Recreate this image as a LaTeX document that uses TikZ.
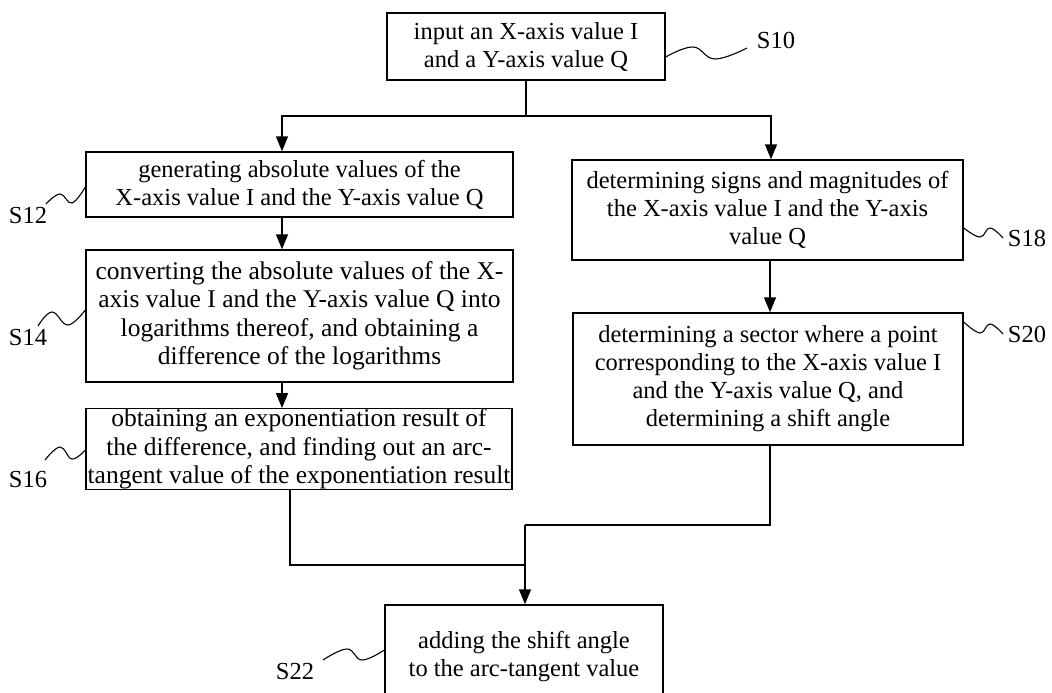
\documentclass[tikz,border=0pt]{standalone}
\usepackage{fontspec}
\setmainfont{Liberation Serif}
\usetikzlibrary{arrows.meta,calc}
\begin{document}
\begin{tikzpicture}[x=1pt,y=-1pt,
  box/.style={draw, line width=1.4pt, rectangle, inner sep=0pt, align=center,
    font=\fontsize{24.5}{28}\selectfont},
  bigbox/.style={box, font=\fontsize{25.5}{28.5}\selectfont},
  lbl/.style={font=\fontsize{24.5}{28}\selectfont, inner sep=0pt},
  conn/.style={line width=1.4pt},
  arr/.style={conn, -{Triangle[length=15pt,width=12pt]}},
  sq/.style={line width=1.1pt}]
\useasboundingbox (0,0) rectangle (1052,693);

% boxes
\node[box, minimum width=278pt, minimum height=67pt] (s10) at (526,46.5)
  {input an X-axis value I\\and a Y-axis value Q};
\node[box, minimum width=427pt, minimum height=65pt] (s12) at (299.5,184.5)
  {generating absolute values of the\\X-axis value I and the Y-axis value Q};
\node[bigbox, minimum width=427pt, minimum height=132pt] (s14) at (299.5,316)
  {converting the absolute values of the X-\\axis value I and the Y-axis value Q into\\logarithms thereof, and obtaining a\\difference of the logarithms};
\node[bigbox, minimum width=426pt, minimum height=72pt] (s16) at (299,449)
  {obtaining an exponentiation result of\\the difference, and finding out an arc-\\tangent value of the exponentiation result};
\node[box, minimum width=391pt, minimum height=100pt] (s18) at (767.5,210)
  {determining signs and magnitudes of\\the X-axis value I and the Y-axis\\value Q};
\node[box, minimum width=390pt, minimum height=132pt] (s20) at (768,379)
  {determining a sector where a point\\corresponding to the X-axis value I\\and the Y-axis value Q, and\\determining a shift angle};
\node[box, minimum width=278pt, minimum height=104pt] (s22) at (524,657)
  {adding the shift angle\\to the arc-tangent value};

% labels
\node[lbl] (l10) at (776,40) {S10};
\node[lbl] (l12) at (28,216) {S12};
\node[lbl] (l14) at (28,338) {S14};
\node[lbl] (l16) at (28,480) {S16};
\node[lbl] (l18) at (1027,238) {S18};
\node[lbl] (l20) at (1027,334) {S20};
\node[lbl] (l22) at (295,672) {S22};

% squiggles
\draw[sq] plot[smooth, tension=0.7] coordinates {($(s10.east)+(0,10.5)$) (693,47) (715,59) (747,48)};
\draw[sq] plot[smooth, tension=0.7] coordinates {($(s12.west)+(0,2.5)$) (72,203) (60,194) (46,204)};
\draw[sq] plot[smooth, tension=0.7] coordinates {($(s14.west)+(0,-6)$) (68,325) (52,312) (38,326)};
\draw[sq] plot[smooth, tension=0.7] coordinates {($(s16.west)+(0,1)$) (72,459) (60,447) (45,460)};
\draw[sq] plot[smooth, tension=0.7] coordinates {($(s18.east)+(0,18)$) (980,237) (990,228) (1003,238)};
\draw[sq] plot[smooth, tension=0.7] coordinates {($(s20.east)+(0,-57)$) (980,333) (990,324) (1003,334)};
\draw[sq] plot[smooth, tension=0.7] coordinates {($(s22.west)+(0,-7)$) (362,660) (347,649) (323,660)};

% connectors
\coordinate (j0) at (526,116);
\coordinate (jl) at (282,116);
\coordinate (jr) at (771,116);
\coordinate (bl) at (290,565);
\coordinate (br) at (770,525);
\coordinate (jb) at (525,525);

\draw[conn] (s10.south) -- (j0);
\draw[arr] (j0) -- (jl) -- (jl |- s12.north);
\draw[arr] (j0) -- (jr) -- (jr |- s18.north);
\draw[arr] (jl |- s12.south) -- (jl |- s14.north);
\draw[arr] (jl |- s14.south) -- (jl |- s16.north);
\draw[arr] (br |- s18.south) -- (br |- s20.north);
\draw[conn] (bl |- s16.south) -- (bl) -- (bl -| jb);
\draw[conn] (br |- s20.south) -- (br) -- (jb);
\draw[arr] (jb) -- (jb |- s22.north);
\end{tikzpicture}
\end{document}
